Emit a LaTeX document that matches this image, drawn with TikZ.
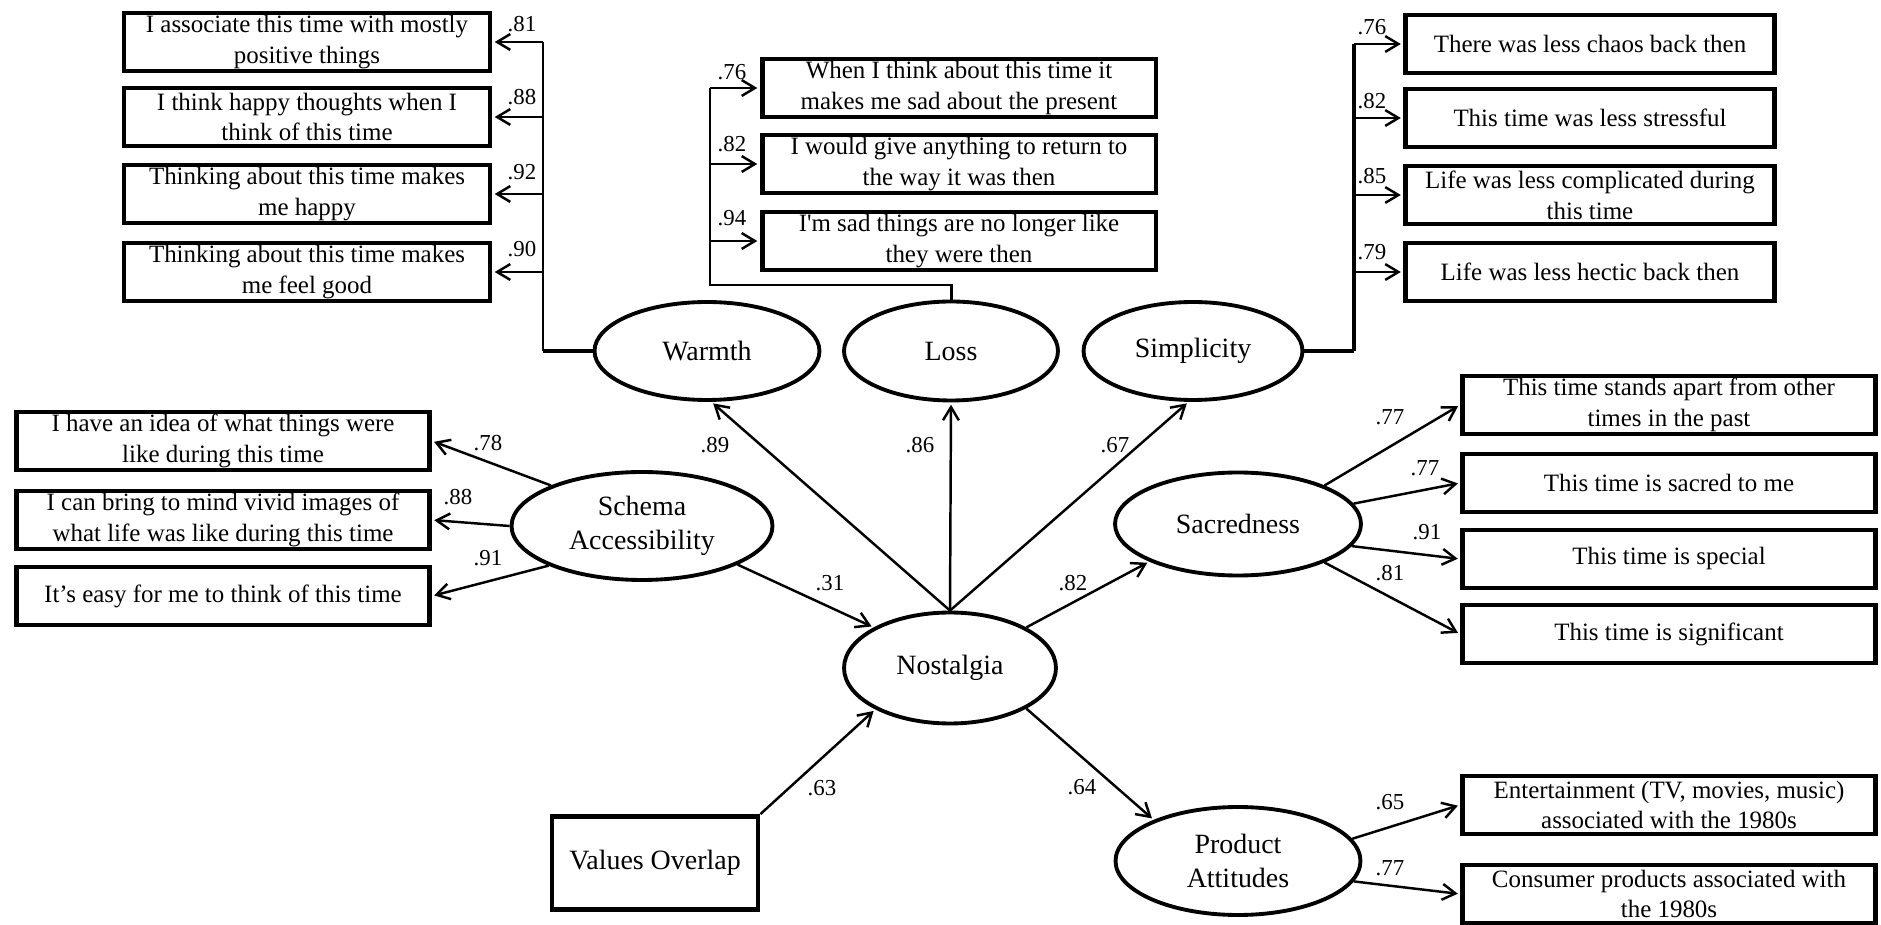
\documentclass[tikz,border=0pt]{standalone}
\usepackage{fontspec}
\setmainfont{Liberation Serif}
\usetikzlibrary{shapes.geometric,arrows.meta}

\newcommand{\itemfont}{\fontsize{14.2}{17.6}\selectfont}
\newcommand{\latentfont}{\fontsize{15.9}{19}\selectfont}
\newcommand{\coeffont}{\fontsize{13}{15}\selectfont}

\tikzset{
  indicator/.style={draw, line width=2.8pt, minimum width=#1, minimum height=1.16cm,
    inner sep=1pt, align=center, font=\itemfont},
  latent/.style={ellipse, draw, line width=2.2pt, inner sep=0pt, align=center, font=\latentfont},
  arr/.style={-{Straight Barb[length=7.5pt,width=9pt]}, line width=1.4pt, shorten >=1.3pt},
  bus/.style={line width=1.7pt},
  coef/.style={font=\coeffont, inner sep=0pt}
}

\begin{document}
\begin{tikzpicture}[x=0.02cm, y=-0.02cm]
  \useasboundingbox (0,0) rectangle (1881,925);

  % latent factors
  \node[latent, minimum width=4.5cm, minimum height=1.96cm] (warm) at (707,351) {Warmth};
  \node[latent, minimum width=4.28cm, minimum height=1.98cm] (loss) at (951,351) {Loss};
  \node[latent, minimum width=4.38cm, minimum height=1.96cm] (simp) at (1193,351) {Simplicity};
  \node[latent, minimum width=5.22cm, minimum height=2.16cm] (schema) at (642,526) {Schema\\Accessibility};
  \node[latent, minimum width=4.92cm, minimum height=2.06cm] (sacred) at (1238,524) {Sacredness};
  \node[latent, minimum width=4.24cm, minimum height=2.22cm] (nost) at (950,668) {Nostalgia};
  \node[latent, minimum width=4.9cm, minimum height=2.16cm] (prod) at (1238,861) {Product\\Attitudes};
  \node[draw, line width=2.8pt, minimum width=4.12cm, minimum height=1.86cm, font=\latentfont]
    (values) at (655,863) {Values Overlap};

  % Warmth items
  \node[indicator=7.32cm] (w1) at (307,42) {I associate this time with mostly\\positive things};
  \node[indicator=7.32cm] (w2) at (307,117) {I think happy thoughts when I\\think of this time};
  \node[indicator=7.32cm] (w3) at (307,194) {Thinking about this time makes\\me happy};
  \node[indicator=7.32cm] (w4) at (307,272) {Thinking about this time makes\\me feel good};

  % Loss items
  \node[indicator=7.88cm] (l1) at (959,88) {When I think about this time it\\makes me sad about the present};
  \node[indicator=7.88cm] (l2) at (959,164) {I would give anything to return to\\the way it was then};
  \node[indicator=7.88cm] (l3) at (959,241) {I\textquotesingle m sad things are no longer like\\they were then};

  % Simplicity items
  \node[indicator=7.38cm] (s1) at (1590,44) {There was less chaos back then};
  \node[indicator=7.38cm] (s2) at (1590,118) {This time was less stressful};
  \node[indicator=7.38cm] (s3) at (1590,195) {Life was less complicated during\\this time};
  \node[indicator=7.38cm] (s4) at (1590,272) {Life was less hectic back then};

  % Schema Accessibility items
  \node[indicator=8.26cm] (a1) at (223,441) {I have an idea of what things were\\like during this time};
  \node[indicator=8.26cm] (a2) at (223,520) {I can bring to mind vivid images of\\what life was like during this time};
  \node[indicator=8.26cm] (a3) at (223,596) {It’s easy for me to think of this time};

  % Sacredness items
  \node[indicator=8.26cm] (c1) at (1669,405) {This time stands apart from other\\times in the past};
  \node[indicator=8.26cm] (c2) at (1669,483) {This time is sacred to me};
  \node[indicator=8.26cm] (c3) at (1669,559) {This time is special};
  \node[indicator=8.26cm] (c4) at (1669,634) {This time is significant};

  % Product Attitudes items
  \node[indicator=8.26cm] (p1) at (1669,805) {Entertainment (TV, movies, music)\\associated with the 1980s};
  \node[indicator=8.26cm] (p2) at (1669,894) {Consumer products associated with\\the 1980s};

  % Warmth bus
  \coordinate (wbus) at (543,351);
  \draw[line width=2.3pt] (warm.west) -- (wbus);
  \draw[bus] (wbus) -- (wbus |- w1.east);
  \draw[arr] (wbus |- w1.east) -- (w1.east);
  \draw[arr] (wbus |- w2.east) -- (w2.east);
  \draw[arr] (wbus |- w3.east) -- (w3.east);
  \draw[arr] (wbus |- w4.east) -- (w4.east);
  \node[coef] (cw1) at (522,24) {.81};
  \node[coef] (cw2) at (522,97) {.88};
  \node[coef] (cw3) at (522,172) {.92};
  \node[coef] (cw4) at (522,249) {.90};

  % Loss bus
  \coordinate (lbus) at (710,285);
  \draw[bus] (loss.north) |- (lbus) -- (lbus |- l1.west);
  \draw[arr] (lbus |- l1.west) -- (l1.west);
  \draw[arr] (lbus |- l2.west) -- (l2.west);
  \draw[arr] (lbus |- l3.west) -- (l3.west);
  \node[coef] (cl1) at (732,72) {.76};
  \node[coef] (cl2) at (732,144) {.82};
  \node[coef] (cl3) at (732,218) {.94};

  % Simplicity bus
  \coordinate (sbus) at (1354,351);
  \draw[line width=2.3pt] (simp.east) -- (sbus);
  \draw[line width=2pt] (sbus) -- (sbus |- s1.west);
  \draw[arr] (sbus |- s1.west) -- (s1.west);
  \draw[arr] (sbus |- s2.west) -- (s2.west);
  \draw[arr] (sbus |- s3.west) -- (s3.west);
  \draw[arr] (sbus |- s4.west) -- (s4.west);
  \node[coef] (cs1) at (1372,27) {.76};
  \node[coef] (cs2) at (1372,101) {.82};
  \node[coef] (cs3) at (1372,176) {.85};
  \node[coef] (cs4) at (1372,252) {.79};

  % structural paths
  \draw[arr] (nost.north) -- (warm.-85);
  \draw[arr] (nost.north) -- (loss.south);
  \draw[arr] (nost.north) -- (simp.-95);
  \draw[arr] (schema.-22) -- (nost.152);
  \draw[arr] (nost.28) -- (sacred.203);
  \draw[arr] (values.north east) -- (nost.209);
  \draw[arr] (nost.-28) -- (prod.154);
  \node[coef] (c89) at (715,445) {.89};
  \node[coef] (c86) at (920,445) {.86};
  \node[coef] (c67) at (1115,445) {.67};
  \node[coef] (c31) at (830,583) {.31};
  \node[coef] (c82) at (1073,583) {.82};
  \node[coef] (c63) at (822,788) {.63};
  \node[coef] (c64) at (1082,787) {.64};

  % Schema Accessibility loadings
  \draw[arr] (schema.156) -- (a1.east);
  \draw[arr] (schema.west) -- (a2.east);
  \draw[arr] (schema.203) -- (a3.east);
  \node[coef] (ca1) at (488,443) {.78};
  \node[coef] (ca2) at (458,497) {.88};
  \node[coef] (ca3) at (488,558) {.91};

  % Sacredness loadings
  \draw[arr] (sacred.24.5) -- (c1.west);
  \draw[arr] (sacred.10) -- (c2.west);
  \draw[arr] (sacred.-11) -- (c3.west);
  \draw[arr] (sacred.-24.6) -- (c4.west);
  \node[coef] (cc1) at (1390,417) {.77};
  \node[coef] (cc2) at (1425,468) {.77};
  \node[coef] (cc3) at (1427,532) {.91};
  \node[coef] (cc4) at (1390,573) {.81};

  % Product Attitudes loadings
  \draw[arr] (prod.11) -- (p1.west);
  \draw[arr] (prod.-10) -- (p2.west);
  \node[coef] (cp1) at (1390,802) {.65};
  \node[coef] (cp2) at (1390,868) {.77};
\end{tikzpicture}
\end{document}
